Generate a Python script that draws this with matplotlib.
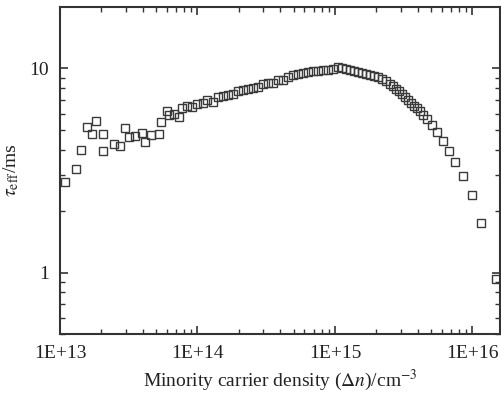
import matplotlib
matplotlib.use("Agg")
import matplotlib.pyplot as plt
from matplotlib.ticker import LogLocator, FixedLocator, NullFormatter

# Minority carrier density (cm^-3)
dn = [1.08e13, 1.30e13, 1.43e13, 1.56e13, 1.70e13, 1.82e13, 2.07e13, 2.07e13,
      2.48e13, 2.73e13, 2.98e13, 3.19e13, 3.53e13, 3.92e13, 4.15e13, 4.59e13,
      5.22e13, 5.43e13, 6.01e13, 6.25e13, 6.79e13, 7.39e13, 7.77e13, 8.45e13,
      9.19e13, 1.00e14, 1.09e14, 1.18e14, 1.29e14, 1.40e14, 1.52e14, 1.66e14,
      1.80e14, 1.96e14, 2.13e14, 2.32e14, 2.52e14, 2.74e14, 2.98e14, 3.24e14,
      3.53e14, 3.84e14, 4.17e14, 4.54e14, 4.94e14, 5.37e14, 5.84e14, 6.35e14,
      6.91e14, 7.52e14, 8.17e14, 8.89e14, 9.67e14, 1.05e15, 1.12e15, 1.20e15,
      1.29e15, 1.38e15, 1.47e15, 1.57e15, 1.68e15, 1.80e15, 1.93e15, 2.06e15,
      2.20e15, 2.36e15, 2.52e15, 2.65e15, 2.79e15, 2.93e15, 3.08e15, 3.24e15,
      3.41e15, 3.59e15, 3.77e15, 3.97e15, 4.17e15, 4.39e15, 4.69e15, 5.11e15,
      5.55e15, 6.14e15, 6.79e15, 7.51e15, 8.60e15, 1.00e16, 1.16e16, 1.47e16]

# Effective lifetime (ms)
tau = [2.77, 3.22, 4.00, 5.16, 4.75, 5.50, 4.79, 3.93,
       4.27, 4.16, 5.10, 4.61, 4.64, 4.84, 4.35, 4.73,
       4.79, 5.46, 6.18, 5.88, 6.00, 5.77, 6.37, 6.51,
       6.44, 6.66, 6.74, 6.97, 6.81, 7.21, 7.29, 7.37,
       7.46, 7.72, 7.80, 7.89, 7.98, 8.07, 8.35, 8.44,
       8.44, 8.73, 8.73, 9.03, 9.24, 9.35, 9.45, 9.56,
       9.67, 9.67, 9.78, 9.78, 9.89, 10.11, 10.0, 9.89,
       9.78, 9.67, 9.56, 9.45, 9.35, 9.24, 9.14, 9.03,
       8.83, 8.64, 8.35, 8.16, 7.89, 7.72, 7.46, 7.21,
       6.97, 6.74, 6.51, 6.37, 6.16, 5.88, 5.62, 5.26,
       4.86, 4.39, 3.92, 3.46, 2.96, 2.39, 1.74, 0.934]

x_ticks = [1e13, 1e14, 1e15, 1e16]
x_ticklabels = ["1E+13", "1E+14", "1E+15", "1E+16"]
y_ticks = [1, 10]
y_ticklabels = ["1", "10"]

plt.rcParams['font.family'] = ['Liberation Serif', 'DejaVu Serif']
plt.rcParams['mathtext.fontset'] = 'stix'

fig = plt.figure(figsize=(5.02, 3.93), dpi=100)
ax = fig.add_axes([60/502, 1-334/393, 440/502, 327/393])

ax.plot(dn, tau, linestyle='none', marker='s', markersize=5.3,
        markerfacecolor='none', markeredgecolor='#3a3a3a', markeredgewidth=1.0,
        clip_on=False)

ax.set_xscale('log')
ax.set_yscale('log')
ax.set_xlim(1e13, 10**16.2)
ax.set_ylim(0.5, 10**1.3)

ax.xaxis.set_major_locator(FixedLocator(x_ticks))
ax.set_xticklabels(x_ticklabels)
ax.yaxis.set_major_locator(FixedLocator(y_ticks))
ax.set_yticklabels(y_ticklabels)
ax.xaxis.set_minor_locator(LogLocator(base=10, subs=range(2, 10)))
ax.yaxis.set_minor_locator(LogLocator(base=10, subs=range(2, 10)))
ax.xaxis.set_minor_formatter(NullFormatter())
ax.yaxis.set_minor_formatter(NullFormatter())

ax.tick_params(which='both', direction='in', top=True, right=True,
               colors='#333333', labelcolor='#222222', labelsize=14)
ax.tick_params(which='major', length=6, width=1.2, pad=8)
ax.tick_params(which='minor', length=3.5, width=1.0)
for s in ax.spines.values():
    s.set_linewidth(1.5)
    s.set_color('#333333')

ax.set_xlabel(r'Minority carrier density ($\Delta \mathit{n}$)/cm$^{-3}$',
              fontsize=14, color='#222222', labelpad=4)
ax.set_ylabel(r'$\tau_{\mathrm{eff}}$/ms', fontsize=14, color='#222222', labelpad=6)

fig.savefig('out.png', dpi=100)
